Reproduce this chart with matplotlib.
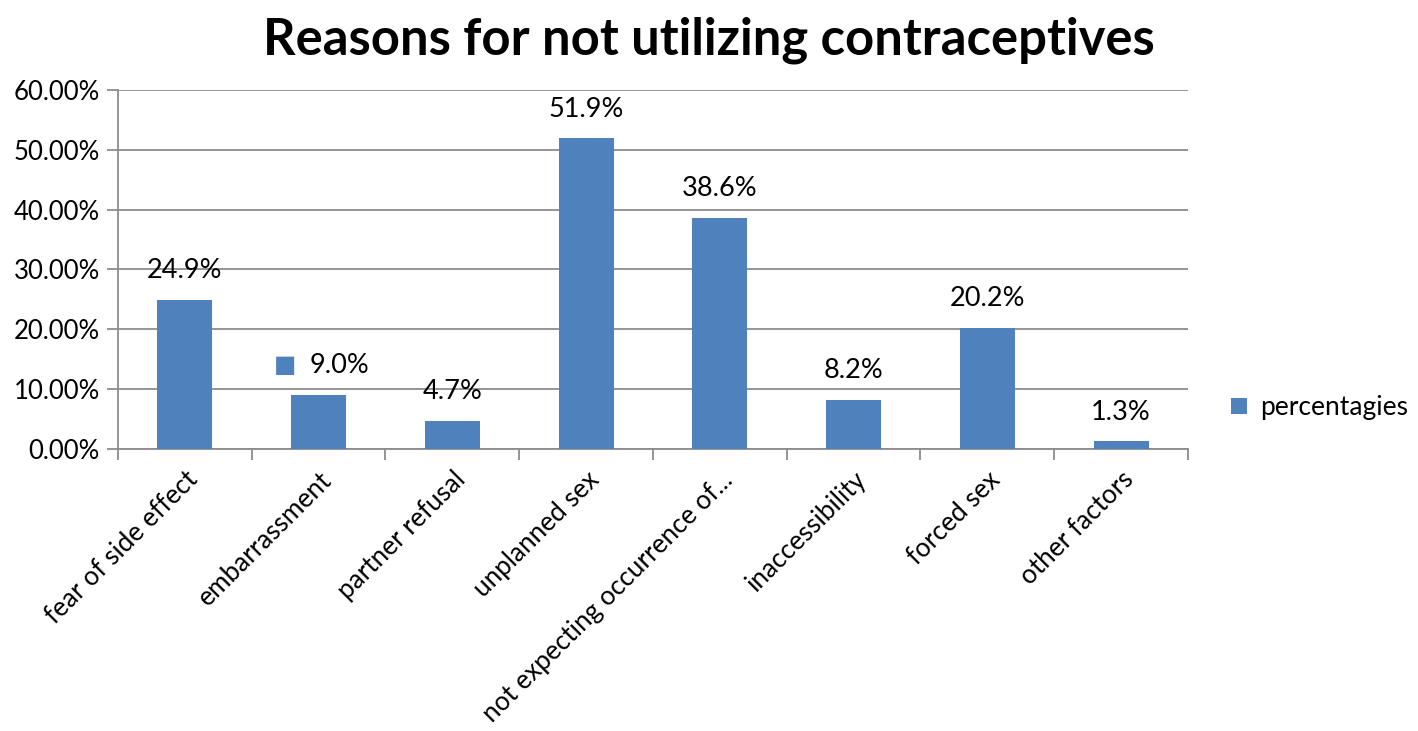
import numpy as np
import matplotlib
matplotlib.use('Agg')
import matplotlib.pyplot as plt
from matplotlib.ticker import FuncFormatter, MultipleLocator

# dane
categories = ['fear of side effect', 'embarrassment', 'partner refusal', 'unplanned sex',
              'not expecting occurrence of...', 'inaccessibility', 'forced sex', 'other factors']
values = [24.9, 9.0, 4.7, 51.9, 38.6, 8.2, 20.2, 1.3]
series_name = 'percentagies'
title = 'Reasons for not utilizing contraceptives'

bar_color = '#4F81BD'
grid_color = '#8C8C8C'

plt.rcParams['font.family'] = ['Lato', 'DejaVu Sans']

fig = plt.figure(figsize=(14.18, 7.31), dpi=100)
ax = fig.add_axes([0.0832, 0.3858, 0.7546, 0.4911])

x = np.arange(len(categories))
bars = ax.bar(x, values, width=0.41, color=bar_color, label=series_name, zorder=3)

ax.set_xlim(-0.5, len(categories) - 0.5)
ax.set_ylim(0, 60)
ax.yaxis.set_major_locator(MultipleLocator(10))
ax.yaxis.set_major_formatter(FuncFormatter(lambda v, p: f'{v:.2f}%'))
ax.grid(axis='y', color=grid_color, lw=1.3, zorder=0)

# ticki na granicach kategorii, etykiety w srodku
ax.set_xticks(np.arange(len(categories) + 1) - 0.5)
ax.set_xticklabels([])
ax.set_xticks(x, minor=True)
ax.set_xticklabels(categories, minor=True, rotation=45, ha='right', va='top',
                   rotation_mode='anchor', fontsize=18.8)
ax.tick_params(axis='x', which='minor', length=0, pad=13)
ax.tick_params(axis='x', which='major', length=8, color=grid_color, width=1.3)
ax.tick_params(axis='y', length=8, color=grid_color, width=1.3, labelsize=18.5, pad=5)

for s in ['top', 'right']:
    ax.spines[s].set_visible(False)
for s in ['left', 'bottom']:
    ax.spines[s].set_color(grid_color)
    ax.spines[s].set_linewidth(1.3)

# etykiety nad slupkami
for i, v in enumerate(values):
    dx = 0
    if i == 1:
        # etykieta 9.0% przesunieta w prawo, obok maly kwadrat legendy
        dx = 15
        ax.annotate('\u25A0', (x[i], v), xytext=(-24, 13), textcoords='offset points',
                    ha='center', va='bottom', fontsize=17, color=bar_color,
                    family='DejaVu Sans')
    ax.annotate(f'{v:.1f}%', (x[i], v), xytext=(dx, 12), textcoords='offset points',
                ha='center', va='bottom', fontsize=19.5)

fig.text(0.5, 0.945, title, ha='center', va='center', fontsize=36.5, fontweight='bold')

fig.legend(loc='center left', bbox_to_anchor=(0.868, 0.442), frameon=False,
           borderpad=0, borderaxespad=0,
           fontsize=19, handlelength=0.6, handleheight=0.6, handletextpad=0.5)

fig.savefig('out.png', dpi=100)
